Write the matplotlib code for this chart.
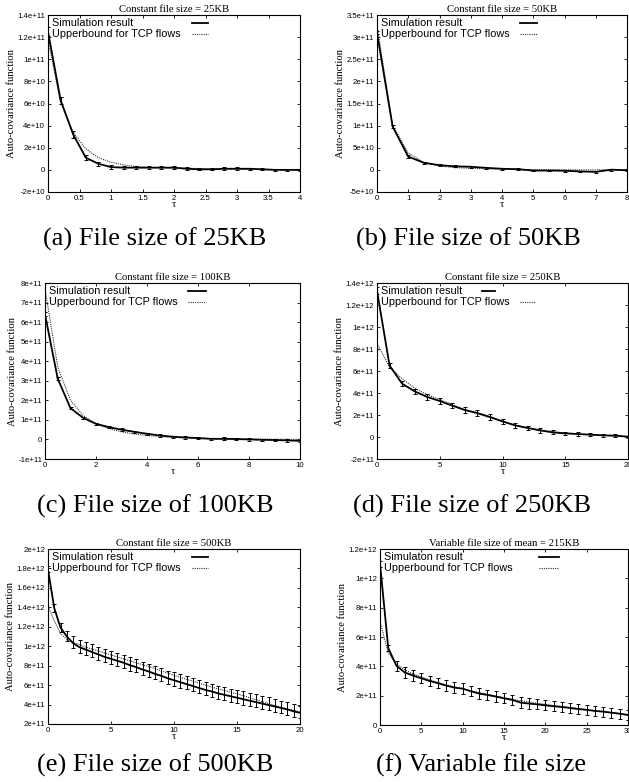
import matplotlib
matplotlib.use('Agg')
import matplotlib.pyplot as plt
from matplotlib.ticker import FuncFormatter
import numpy as np

plt.rcParams['font.family'] = ['Liberation Sans', 'DejaVu Sans']

# ---- data (sim = simulation result, ub = upperbound for TCP flows) ----
# (a) 25KB, y in units of 1e10
tau_a = [0, 0.2, 0.4, 0.6, 0.8, 1.0, 1.2, 1.4, 1.6, 1.8, 2.0, 2.2, 2.4, 2.6, 2.8, 3.0, 3.2, 3.4, 3.6, 3.8, 4.0]
sim_a = [12.5, 6.3, 3.2, 1.1, 0.55, 0.25, 0.2, 0.2, 0.2, 0.2, 0.2, 0.1, 0.05, 0.05, 0.1, 0.1, 0.1, 0.05, 0.0, 0.0, 0.0]
ub_a = [11.8, 6.1, 3.4, 1.9, 1.1, 0.7, 0.45, 0.3, 0.22, 0.2, 0.18, 0.15, 0.12, 0.1, 0.1, 0.08, 0.06, 0.05, 0.03, 0.02, 0.01]
err_a = [0.4, 0.3, 0.3, 0.2, 0.2, 0.15, 0.15, 0.15, 0.15, 0.15, 0.15, 0.15, 0.1, 0.1, 0.15, 0.15, 0.1, 0.1, 0.1, 0.1, 0.1]

# (b) 50KB, 1e10
tau_b = [0, 0.5, 1, 1.5, 2, 2.5, 3, 3.5, 4, 4.5, 5, 5.5, 6, 6.5, 7, 7.5, 8]
sim_b = [31.0, 9.8, 3.0, 1.6, 1.05, 0.8, 0.7, 0.45, 0.25, 0.15, -0.15, -0.15, -0.2, -0.35, -0.45, 0.05, -0.1]
ub_b = [32.6, 10.0, 3.8, 1.7, 0.9, 0.5, 0.35, 0.25, 0.15, 0.1, 0.05, 0.03, 0.02, 0.01, 0.0, 0.0, 0.0]
err_b = [0.4, 0.3, 0.25, 0.2, 0.2, 0.2, 0.2, 0.2, 0.2, 0.2, 0.2, 0.2, 0.2, 0.2, 0.2, 0.2, 0.2]

# (c) 100KB, 1e11
tau_c = [0, 0.5, 1, 1.5, 2, 2.5, 3, 3.5, 4, 4.5, 5, 5.5, 6, 6.5, 7, 7.5, 8, 8.5, 9, 9.5, 10]
sim_c = [6.4, 3.1, 1.6, 1.1, 0.8, 0.63, 0.5, 0.39, 0.29, 0.2, 0.14, 0.1, 0.07, 0.03, 0.03, 0.02, 0.0, -0.02, -0.03, -0.05, -0.07]
ub_c = [7.7, 3.7, 2.0, 1.22, 0.8, 0.55, 0.39, 0.28, 0.2, 0.15, 0.11, 0.08, 0.06, 0.05, 0.04, 0.03, 0.02, 0.02, 0.01, 0.01, 0.0]
err_c = [0.1, 0.08, 0.06, 0.06, 0.06, 0.06, 0.06, 0.06, 0.06, 0.06, 0.06, 0.06, 0.06, 0.06, 0.08, 0.06, 0.06, 0.06, 0.06, 0.06, 0.06]

# (d) 250KB, 1e11
tau_d = list(range(0, 21))
sim_d = [13.3, 6.5, 4.85, 4.15, 3.64, 3.27, 2.85, 2.45, 2.18, 1.82, 1.42, 1.06, 0.82, 0.6, 0.42, 0.33, 0.27, 0.21, 0.15, 0.12, 0.03]
ub_d = [8.5, 6.35, 5.3, 4.45, 3.85, 3.4, 2.94, 2.48, 2.12, 1.76, 1.39, 1.09, 0.82, 0.64, 0.48, 0.36, 0.27, 0.21, 0.15, 0.09, 0.03]
err_d = [0.3, 0.25, 0.25, 0.25, 0.25, 0.25, 0.25, 0.25, 0.25, 0.25, 0.22, 0.2, 0.2, 0.2, 0.18, 0.16, 0.15, 0.12, 0.12, 0.12, 0.1]

# (e) 500KB, 1e11
tau_e = [0, 0.5, 1, 1.5, 2, 2.5, 3, 3.5, 4, 4.5, 5, 5.5, 6, 6.5, 7, 7.5, 8, 8.5, 9, 9.5, 10,
         10.5, 11, 11.5, 12, 12.5, 13, 13.5, 14, 14.5, 15, 15.5, 16, 16.5, 17, 17.5, 18, 18.5, 19, 19.5, 20]
sim_e = [17.9, 13.9, 11.9, 11.0, 10.3, 9.9, 9.65, 9.4, 9.15, 8.9, 8.7, 8.5, 8.3, 8.05, 7.85, 7.6, 7.4, 7.15, 6.95, 6.7, 6.5,
         6.3, 6.1, 5.9, 5.7, 5.5, 5.35, 5.15, 5.0, 4.85, 4.7, 4.55, 4.4, 4.25, 4.1, 3.95, 3.8, 3.65, 3.5, 3.3, 3.15]
ub_e = [14.1, 12.6, 11.3, 10.7, 10.4, 10.15, 9.9, 9.7, 9.5, 9.3, 9.1, 8.9, 8.7, 8.5, 8.3, 8.1, 7.9, 7.7, 7.45, 7.25, 7.0,
        6.8, 6.6, 6.4, 6.2, 6.0, 5.8, 5.6, 5.45, 5.25, 5.1, 4.9, 4.7, 4.5, 4.3, 4.1, 3.9, 3.7, 3.55, 3.4, 3.25]
errlo_e = [0.3, 0.4, 0.4, 0.45, 0.5, 0.55, 0.55, 0.55, 0.55, 0.55, 0.55, 0.55, 0.55, 0.55, 0.55, 0.55, 0.55, 0.55, 0.55, 0.55, 0.55,
           0.55, 0.55, 0.55, 0.55, 0.55, 0.55, 0.55, 0.55, 0.55, 0.55, 0.55, 0.55, 0.55, 0.55, 0.55, 0.55, 0.55, 0.55, 0.55, 0.55]
errhi_e = [0.3, 0.4, 0.5, 0.6, 0.7, 0.75, 0.8, 0.8, 0.8, 0.8, 0.8, 0.8, 0.8, 0.8, 0.8, 0.8, 0.8, 0.8, 0.8, 0.8, 0.8,
           0.8, 0.8, 0.8, 0.8, 0.8, 0.8, 0.8, 0.8, 0.8, 0.8, 0.8, 0.8, 0.8, 0.8, 0.8, 0.75, 0.75, 0.75, 0.75, 0.75]

# (f) variable size, 1e11
tau_f = list(range(0, 31))
sim_f = [11.0, 5.24, 4.03, 3.58, 3.37, 3.19, 3.0, 2.85, 2.69, 2.55, 2.48, 2.3, 2.14, 2.05, 1.94, 1.82,
         1.71, 1.53, 1.46, 1.41, 1.34, 1.28, 1.23, 1.16, 1.09, 1.03, 0.96, 0.91, 0.84, 0.77, 0.68]
ub_f = [7.06, 4.9, 4.17, 3.76, 3.49, 3.28, 3.08, 2.9, 2.73, 2.6, 2.46, 2.32, 2.21, 2.1, 1.98, 1.87,
        1.75, 1.66, 1.57, 1.48, 1.41, 1.32, 1.25, 1.18, 1.12, 1.05, 0.98, 0.91, 0.84, 0.77, 0.71]
err_f = [0.2, 0.2, 0.35, 0.35, 0.35, 0.35, 0.35, 0.35, 0.35, 0.35, 0.35, 0.35, 0.35, 0.35, 0.35, 0.35,
         0.35, 0.35, 0.35, 0.35, 0.35, 0.35, 0.35, 0.35, 0.35, 0.35, 0.35, 0.35, 0.35, 0.35, 0.35]

titles = ['Constant file size = 25KB', 'Constant file size = 50KB', 'Constant file size = 100KB',
          'Constant file size = 250KB', 'Constant file size = 500KB', 'Variable file size of mean = 215KB']
captions = ['(a) File size of 25KB', '(b) File size of 50KB', '(c) File size of 100KB',
            '(d) File size of 250KB', '(e) File size of 500KB', '(f) Variable file size']
sim_labels = ['Simulation result'] * 5 + ['Simulaton result']
ub_label = 'Upperbound for TCP flows'

panels = [
    # tau, sim, ub, err, scale, ylim, ystep, xlim, xstep
    (tau_a, sim_a, ub_a, err_a, 1e10, (-2e10, 1.4e11), 2e10, (0, 4), 0.5),
    (tau_b, sim_b, ub_b, err_b, 1e10, (-5e10, 3.5e11), 5e10, (0, 8), 1),
    (tau_c, sim_c, ub_c, err_c, 1e11, (-1e11, 8e11), 1e11, (0, 10), 2),
    (tau_d, sim_d, ub_d, err_d, 1e11, (-2e11, 1.4e12), 2e11, (0, 20), 5),
    (tau_e, sim_e, ub_e, [errlo_e, errhi_e], 1e11, (2e11, 2e12), 2e11, (0, 20), 5),
    (tau_f, sim_f, ub_f, err_f, 1e11, (0, 1.2e12), 2e11, (0, 30), 5),
]

# axes rectangles in pixels: left, top, right, bottom
W, H = 629, 782
rects = [(48, 15, 300, 192), (377, 15, 627, 192),
         (45, 283, 300, 459), (377, 283, 628, 459),
         (48, 549, 300, 724), (380, 549, 628, 725)]
# legend sample x-ranges (axes fraction): solid, dotted
handle_x = [((0.57, 0.635), (0.57, 0.635)), ((0.57, 0.64), (0.57, 0.64)),
            ((0.56, 0.63), (0.56, 0.63)), ((0.42, 0.47), (0.57, 0.63)),
            ((0.57, 0.635), (0.57, 0.635)), ((0.64, 0.72), (0.64, 0.72))]
caption_pos = [(155, 239), (468, 239), (155, 506), (472, 506), (155, 765), (481, 765)]

fig = plt.figure(figsize=(W / 100, H / 100), dpi=100)
fmt = FuncFormatter(lambda v, p: '%g' % v)

for i, (tau, sim, ub, err, sc, ylim, ystep, xlim, xstep) in enumerate(panels):
    l, t, r, b = rects[i]
    ax = fig.add_axes([l / W, 1 - b / H, (r - l) / W, (b - t) / H])
    sim_v = np.array(sim) * sc
    ub_v = np.array(ub) * sc
    err_v = np.array(err) * sc
    ax.errorbar(tau, sim_v, yerr=err_v, color='black', lw=1.3, elinewidth=0.7,
                capsize=1.2, capthick=0.7, zorder=3)
    ax.plot(tau, ub_v, color='#333333', lw=0.8, linestyle=(0, (1, 1)), zorder=2)

    ax.set_xlim(*xlim)
    ax.set_ylim(*ylim)
    ax.set_xticks(np.arange(xlim[0], xlim[1] + xstep / 2, xstep))
    ax.set_yticks(np.arange(ylim[0], ylim[1] + ystep / 2, ystep))
    ax.xaxis.set_major_formatter(fmt)
    ax.yaxis.set_major_formatter(fmt)
    ax.tick_params(direction='in', length=2.5, width=0.6, top=True, right=True,
                   labelsize=5.6, pad=2)
    for s in ax.spines.values():
        s.set_linewidth(0.8)

    ax.set_title(titles[i], family='Liberation Serif', fontsize=7.7, pad=2)
    ax.set_xlabel('τ', family='Liberation Serif', fontsize=7.5, labelpad=-1)
    ax.set_ylabel('Auto-covariance function', family='Liberation Serif', fontsize=7.7, labelpad=1)

    # gnuplot style key: text left, sample on the right
    (s0, s1), (d0, d1) = handle_x[i]
    ax.text(0.015, 0.952, sim_labels[i], transform=ax.transAxes, fontsize=7.8, va='center')
    ax.text(0.015, 0.89, ub_label, transform=ax.transAxes, fontsize=7.8, va='center')
    ax.plot([s0, s1], [0.952, 0.952], transform=ax.transAxes, color='black', lw=1.3)
    ax.plot([d0, d1], [0.89, 0.89], transform=ax.transAxes, color='#333333', lw=0.8,
            linestyle=(0, (1, 1)))

    cx, cy = caption_pos[i]
    fig.text(cx / W, 1 - cy / H, captions[i], family='Liberation Serif', fontsize=19,
             ha='center', va='center')

fig.savefig('out.png', dpi=100)
